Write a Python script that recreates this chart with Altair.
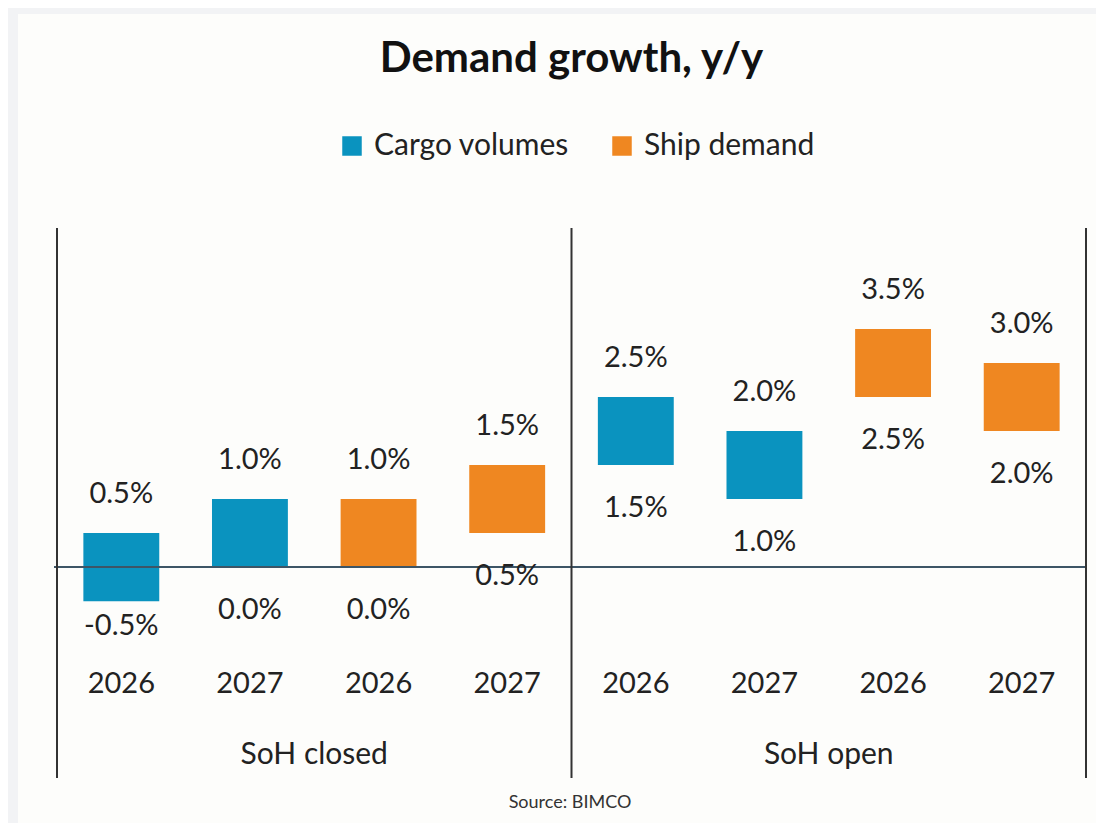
import altair as alt
import pandas as pd

groups = ["SoH closed"] * 4 + ["SoH open"] * 4
series = ["Cargo volumes", "Cargo volumes", "Ship demand", "Ship demand"] * 2
years = ["2026", "2027", "2026", "2027"] * 2
low = [-0.5, 0.0, 0.0, 0.5, 1.5, 1.0, 2.5, 2.0]
high = [0.5, 1.0, 1.0, 1.5, 2.5, 2.0, 3.5, 3.0]
group_names = ["SoH closed", "SoH open"]
series_names = ["Cargo volumes", "Ship demand"]
series_colors = ["#0a93bf", "#ef8721"]

keys = [f"{g} | {s} | {y}" for g, s, y in zip(groups, series, years)]
df = pd.DataFrame(dict(key=keys, group=groups, series=series, year=years, low=low, high=high))
grp_df = pd.DataFrame(dict(group=group_names, key=[keys[1], keys[5]]))
one = pd.DataFrame(dict(a=[0]))

W, H = 1029, 550
FONT = "Lato"
TXT = "#222222"

x = alt.X("key:N", axis=None,
          scale=alt.Scale(domain=keys, paddingInner=0.41, paddingOuter=0.205))
yscale = alt.Scale(domain=[-3.1, 4.985], nice=False, zero=False)

card = alt.Chart(one).mark_rect(color="#fdfdfb").encode(
    x=alt.value(-39), x2=alt.value(W + 40), y=alt.value(-214), y2=alt.value(H + 60))

bars = alt.Chart(df).mark_bar(opacity=1).encode(
    x=x,
    y=alt.Y("low:Q", scale=yscale, axis=None),
    y2="high:Q",
    color=alt.Color("series:N",
                    scale=alt.Scale(domain=series_names, range=series_colors),
                    legend=alt.Legend(title=None, orient="none", legendX=280, legendY=-97,
                                      direction="horizontal", symbolType="square",
                                      symbolSize=380, symbolStrokeWidth=0,
                                      labelFontSize=30, labelFont=FONT, labelColor=TXT,
                                      labelLimit=400, columnPadding=38, labelOffset=7)),
)

zero = alt.Chart(one).mark_rule(color="#3d5566", strokeWidth=2).encode(
    y=alt.datum(0), x=alt.value(-3), x2=alt.value(W))

vrules = [
    alt.Chart(one).mark_rule(color="#333333", strokeWidth=2).encode(
        x=alt.value(xv), y=alt.value(0), y2=alt.value(H))
    for xv in (0, W / 2, W)
]

base = alt.Chart(df).transform_calculate(
    hi_lab="(datum.high < 0 ? '-' : '') + format(abs(datum.high), '.1f') + '%'",
    lo_lab="(datum.low < 0 ? '-' : '') + format(abs(datum.low), '.1f') + '%'",
)
txt_kw = dict(font=FONT, fontSize=29, color=TXT, baseline="middle", align="center")

hi_labels = base.mark_text(dy=-39, **txt_kw).encode(x=x, y="high:Q", text="hi_lab:N")
lo_labels = base.transform_filter("datum.low >= 0").mark_text(dy=43, **txt_kw).encode(
    x=x, y="low:Q", text="lo_lab:N")
lo_labels_neg = base.transform_filter("datum.low < 0").mark_text(dy=25, **txt_kw).encode(
    x=x, y="low:Q", text="lo_lab:N")

year_labels = alt.Chart(df).mark_text(font=FONT, fontSize=29, color=TXT, baseline="middle").encode(
    x=x, y=alt.value(456), text="year:N")

group_labels = alt.Chart(grp_df).mark_text(font=FONT, fontSize=30, color=TXT, baseline="middle",
                                           dx=W / 16).encode(
    x=x, y=alt.value(527), text="group:N")

source = alt.Chart(one).mark_text(font=FONT, fontSize=18, color="#333333", baseline="middle").encode(
    x=alt.value(513), y=alt.value(575), text=alt.value("Source: BIMCO"))

chart = alt.layer(
    card, bars, zero, *vrules, hi_labels, lo_labels, lo_labels_neg, year_labels, group_labels, source
).properties(
    width=W, height=H,
    title=alt.TitleParams("Demand growth, y/y", fontSize=42, font=FONT, fontWeight="bold",
                          color="#111111", anchor="middle", offset=-67),
    background="#f2f3f5",
    padding={"left": 49, "top": 220, "right": 10, "bottom": 45},
    autosize=alt.AutoSizeParams(type="none"),
).configure_view(stroke=None)

chart.save("out.html", embed_options={"renderer": "svg", "actions": False})
